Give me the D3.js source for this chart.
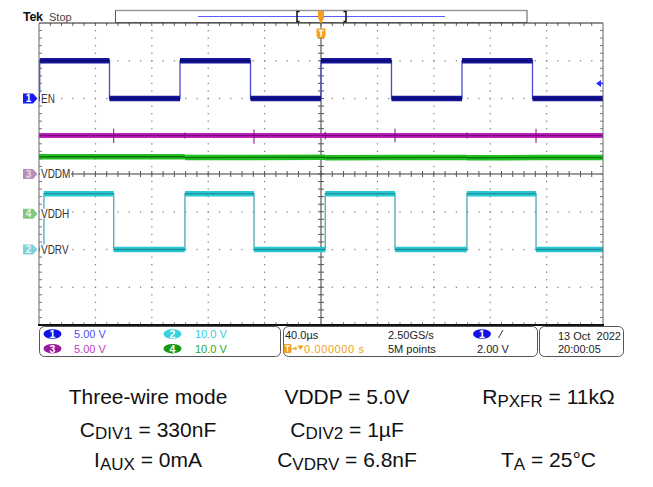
<!DOCTYPE html>
<html><head><meta charset="utf-8">
<script src="https://cdn.jsdelivr.net/npm/d3@7"></script>
<style>
html,body{margin:0;padding:0;background:#fff;}
svg{display:block;}
text{white-space:pre;}
</style></head><body>
<svg id="c" width="653" height="487"></svg>
<script>
// ================= DATA =================
const timeRangeUs = [-200, 200];          // 10 div x 40 µs
const channelIds = [1, 2, 3, 4];
const channelNames = ["EN", "VDRV", "VDDM", "VDDH"];
const channelVoltsPerDiv = [5, 10, 5, 10];
const channelOffsetDiv = [2, -2, 0, -1.05];
const channelScaleLabels = ["5.00 V", "10.0 V", "5.00 V", "10.0 V"];

// CH1  EN
const enTimesUs = [-200, -199.5, -199.5, -150, -150, -100, -100, -50, -50, 0, 0, 50, 50, 100, 100, 150, 150, 200];
const enVolts   = [0, 0, 5, 5, 0, 0, 5, 5, 0, 0, 5, 5, 0, 0, 5, 5, 0, 0];
// CH2  VDRV
const vdrvTimesUs = [-200, -196.5, -196.5, -147, -147, -96.5, -96.5, -47.5, -47.5, 3, 3, 52.5, 52.5, 103.5, 103.5, 152.5, 152.5, 200];
const vdrvVolts   = [0, 0, 14.8, 14.8, 0, 0, 14.8, 14.8, 0, 0, 14.8, 14.8, 0, 0, 14.8, 14.8, 0, 0];
// CH3  VDDM
const vddmTimesUs = [-200, 200];
const vddmVolts   = [5.1, 5.1];
const vddmSpikeTimesUs = [-147, -96.5, -47.5, 3, 52.5, 103.5, 152.5];
const vddmSpikeHighV   = [6.0, 5.5, 5.9, 5.6, 6.0, 5.5, 6.0];
const vddmSpikeLowV    = [4.1, 4.7, 4.0, 4.6, 4.2, 4.7, 4.1];
// CH4  VDDH
const vddhTimesUs = [-200, -96.5, -96.5, -47.5, 3, 3, 52.5, 103.5, 103.5, 152.5, 200];
const vddhVolts   = [15.05, 15.05, 14.85, 14.9, 14.95, 14.8, 14.85, 14.9, 14.8, 14.85, 14.85];

const triggerLevelV = 2.0;
const horizScaleLabel = "40.0µs";
const sampleRateLabel = "2.50GS/s";
const recordLabel = "5M points";
const trigDelayLabel = "0.000000 s";
const trigLevelLabel = "2.00 V";
const dateLabel = "13 Oct  2022";
const timeLabel = "20:00:05";

const paramCol1 = [["Three-wire mode"], ["C", "DIV1", " = 330nF"], ["I", "AUX", " = 0mA"]];
const paramCol2 = [["VDDP = 5.0V"], ["C", "DIV2", " = 1µF"], ["C", "VDRV", " = 6.8nF"]];
const paramCol3 = [["R", "PXFR", " = 11kΩ"], [], ["T", "A", " = 25°C"]];

// ================= STYLE =================
const P = {l: 39, r: 603, t: 23, b: 325};
const FONT = "'Liberation Sans', Arial, sans-serif";
const traceStyle = {
  1: {band: "#14149c", core: "#0a0a6c", edge: "#4a4ad0", w: 5.5},
  2: {band: "#28c8d2", core: "#1f9098", edge: "#4aa8b0", w: 5.5},
  3: {band: "#c41ec4", core: "#7a107a", edge: "#b040b0", w: 5},
  4: {band: "#22bf22", core: "#0c720c", edge: "#30a030", w: 5.5}
};
const markerStyle = {
  1: {fill: "#1a1aee", num: "#ffffff"},
  2: {fill: "#80d2da", num: "#e6f7f8"},
  3: {fill: "#b98cba", num: "#eadcea"},
  4: {fill: "#80c880", num: "#e4f3e4"}
};
const pillStyle = {
  1: {fill: "#1212e6", text: "#5050f0"},
  2: {fill: "#3ad2dc", text: "#30cde0"},
  3: {fill: "#9c1a9c", text: "#c23cc2"},
  4: {fill: "#169a16", text: "#28aa28"}
};

// ================= DRAW =================
const svg = d3.select("#c");
const x = d3.scaleLinear().domain(timeRangeUs).range([P.l, P.r]);
const xDiv = d3.scaleLinear().domain([-5, 5]).range([P.l, P.r]);
const yDiv = d3.scaleLinear().domain([-4, 4]).range([P.b, P.t]);
const chIdx = ch => channelIds.indexOf(ch);
const yV = ch => v => yDiv(v / channelVoltsPerDiv[chIdx(ch)] + channelOffsetDiv[chIdx(ch)]);

svg.append("defs").append("clipPath").attr("id", "clip")
  .append("rect").attr("x", P.l).attr("y", P.t).attr("width", P.r - P.l).attr("height", P.b - P.t);

// grid dots
const grid = svg.append("g");
const dotC = "#858585";
for (let k = -4; k <= 4; k++) {
  if (k === 0) continue;
  for (let j = -19; j <= 19; j++) {
    grid.append("rect").attr("x", xDiv(k) - 0.6).attr("y", yDiv(j * 0.2) - 0.6)
      .attr("width", 1.3).attr("height", 1.3).attr("fill", dotC);
  }
}
for (let k = -3; k <= 3; k++) {
  if (k === 0) continue;
  for (let j = -24; j <= 24; j++) {
    grid.append("rect").attr("x", xDiv(j * 0.2) - 0.6).attr("y", yDiv(k) - 0.6)
      .attr("width", 1.3).attr("height", 1.3).attr("fill", dotC);
  }
}
// center cross with ticks
const cx = xDiv(0), cy = yDiv(0);
grid.append("line").attr("x1", P.l).attr("x2", P.r).attr("y1", cy).attr("y2", cy).attr("stroke", "#3a3a3a").attr("stroke-width", 1);
grid.append("line").attr("x1", cx).attr("x2", cx).attr("y1", P.t).attr("y2", P.b).attr("stroke", "#3a3a3a").attr("stroke-width", 1);
for (let j = -24; j <= 24; j++) {
  grid.append("line").attr("x1", xDiv(j * 0.2)).attr("x2", xDiv(j * 0.2)).attr("y1", cy - 3).attr("y2", cy + 3).attr("stroke", "#555").attr("stroke-width", 1);
  grid.append("line").attr("x1", xDiv(j * 0.2)).attr("x2", xDiv(j * 0.2)).attr("y1", P.t).attr("y2", P.t + 3).attr("stroke", "#666").attr("stroke-width", 1);
  grid.append("line").attr("x1", xDiv(j * 0.2)).attr("x2", xDiv(j * 0.2)).attr("y1", P.b - 3).attr("y2", P.b).attr("stroke", "#888").attr("stroke-width", 1);
}
for (let j = -19; j <= 19; j++) {
  grid.append("line").attr("y1", yDiv(j * 0.2)).attr("y2", yDiv(j * 0.2)).attr("x1", cx - 3).attr("x2", cx + 3).attr("stroke", "#555").attr("stroke-width", 1);
  grid.append("line").attr("y1", yDiv(j * 0.2)).attr("y2", yDiv(j * 0.2)).attr("x1", P.l).attr("x2", P.l + 3).attr("stroke", "#777").attr("stroke-width", 1);
  grid.append("line").attr("y1", yDiv(j * 0.2)).attr("y2", yDiv(j * 0.2)).attr("x1", P.r - 3).attr("x2", P.r).attr("stroke", "#777").attr("stroke-width", 1);
}

// traces
function drawTrace(ch, times, volts) {
  const st = traceStyle[ch], y = yV(ch);
  const g = svg.append("g").attr("clip-path", "url(#clip)");
  const line = d3.line().x(d => x(d[0])).y(d => y(d[1]));
  const pts = times.map((t, i) => [t, volts[i]]);
  g.append("path").attr("d", line(pts)).attr("fill", "none").attr("stroke", st.edge).attr("stroke-width", 1.3);
  for (let i = 0; i < pts.length - 1; i++) {
    if (pts[i + 1][0] > pts[i][0]) {
      g.append("line").attr("x1", x(pts[i][0])).attr("x2", x(pts[i + 1][0]))
        .attr("y1", y(pts[i][1])).attr("y2", y(pts[i + 1][1]))
        .attr("stroke", st.band).attr("stroke-width", st.w);
      g.append("line").attr("x1", x(pts[i][0])).attr("x2", x(pts[i + 1][0]))
        .attr("y1", y(pts[i][1])).attr("y2", y(pts[i + 1][1]))
        .attr("stroke", st.core).attr("stroke-width", 1.4);
    }
  }
  return g;
}
drawTrace(4, vddhTimesUs, vddhVolts);
const g3 = drawTrace(3, vddmTimesUs, vddmVolts);
vddmSpikeTimesUs.forEach((t, i) => {
  g3.append("line").attr("x1", x(t)).attr("x2", x(t))
    .attr("y1", yV(3)(vddmSpikeHighV[i])).attr("y2", yV(3)(vddmSpikeLowV[i]))
    .attr("stroke", traceStyle[3].core).attr("stroke-width", 1);
});
drawTrace(2, vdrvTimesUs, vdrvVolts);
drawTrace(1, enTimesUs, enVolts);

// border
svg.append("line").attr("x1", P.l).attr("x2", P.r).attr("y1", P.t).attr("y2", P.t).attr("stroke", "#222").attr("stroke-width", 1);
svg.append("line").attr("x1", P.l).attr("x2", P.l).attr("y1", P.t).attr("y2", P.b).attr("stroke", "#666").attr("stroke-width", 1);
svg.append("line").attr("x1", P.r).attr("x2", P.r).attr("y1", P.t).attr("y2", P.b).attr("stroke", "#666").attr("stroke-width", 1);
svg.append("line").attr("x1", P.l - 1).attr("x2", P.r + 1).attr("y1", P.b).attr("y2", P.b).attr("stroke", "#111").attr("stroke-width", 2);

// channel ground markers + labels
const markerOrder = [1, 3, 4, 2];
markerOrder.forEach(ch => {
  const yy = yDiv(channelOffsetDiv[chIdx(ch)]);
  const ms = markerStyle[ch];
  svg.append("path").attr("d", `M23,${yy - 5} H33 L37.5,${yy} L33,${yy + 5} H23 Z`).attr("fill", ms.fill);
  svg.append("text").attr("x", 28.5).attr("y", yy + 3.6).attr("text-anchor", "middle")
    .attr("font-family", FONT).attr("font-size", 10).attr("font-weight", "bold").attr("fill", ms.num).text(ch);
  const lbl = svg.append("text").attr("transform", `translate(41,${yy + 4.3}) scale(0.8,1)`)
    .attr("font-family", FONT).attr("font-size", 12.5).attr("fill", "#333").text(channelNames[chIdx(ch)]);
  const w = lbl.node().getComputedTextLength() * 0.8;
  svg.insert("rect", () => lbl.node()).attr("x", 40).attr("y", yy - 5).attr("width", w + 1.5).attr("height", 10).attr("fill", "#fff");
});

// trigger level arrow (right)
const ty = yV(1)(triggerLevelV);
svg.append("path").attr("d", `M596,${ty} L601,${ty - 3.5} L601,${ty + 3.5} Z`).attr("fill", "#2a2aff");
svg.append("line").attr("x1", 600).attr("x2", 603).attr("y1", ty).attr("y2", ty).attr("stroke", "#2a2aff").attr("stroke-width", 1.5);

// top bar
svg.append("text").attr("x", 23).attr("y", 21).attr("font-family", FONT).attr("font-size", 12.5)
  .attr("font-weight", "bold").attr("letter-spacing", -0.3).attr("fill", "#111").text("Tek");
svg.append("text").attr("x", 49).attr("y", 21).attr("font-family", FONT).attr("font-size", 11)
  .attr("fill", "#444").text("Stop");
svg.append("rect").attr("x", 115.5).attr("y", 10.5).attr("width", 411.5).attr("height", 12)
  .attr("fill", "#fff").attr("stroke", "#555").attr("stroke-width", 1);
svg.append("line").attr("x1", 115.5).attr("x2", 527).attr("y1", 10.5).attr("y2", 10.5).attr("stroke", "#999").attr("stroke-width", 1.5);
svg.append("line").attr("x1", 198).attr("x2", 445).attr("y1", 16.5).attr("y2", 16.5).attr("stroke", "#5a5aff").attr("stroke-width", 1.2);
svg.append("path").attr("d", "M299.5,11.5 H297 V21.5 H299.5").attr("fill", "none").attr("stroke", "#111").attr("stroke-width", 1.5);
svg.append("path").attr("d", "M343.5,11.5 H346 V21.5 H343.5").attr("fill", "none").attr("stroke", "#111").attr("stroke-width", 1.5);
// trigger position markers (orange)
const orange = "#f2a01e";
svg.append("path").attr("d", `M${cx - 3},11 H${cx + 3} V18 L${cx},24 L${cx - 3},18 Z`).attr("fill", orange);
svg.append("path").attr("d", `M${cx - 4.5},28.5 H${cx + 4.5} V35 Q${cx + 4.5},38.5 ${cx},38.5 Q${cx - 4.5},38.5 ${cx - 4.5},35 Z`).attr("fill", orange);
svg.append("path").attr("d", `M${cx - 2.5},30.5 H${cx + 2.5} M${cx},30.5 V36.5`).attr("stroke", "#fff").attr("stroke-width", 1.5);

// bottom info panels
const panel = svg.append("g").attr("font-family", FONT).attr("font-size", 11);
function box(x0, x1) {
  panel.append("rect").attr("x", x0 + 0.5).attr("y", 326.5).attr("width", x1 - x0).attr("height", 30)
    .attr("rx", 5).attr("fill", "#fff").attr("stroke", "#555").attr("stroke-width", 1);
}
box(39, 280); box(283, 537); box(539, 623);
function pill(xc, yc, ch) {
  panel.append("ellipse").attr("cx", xc).attr("cy", yc).attr("rx", 9).attr("ry", 4.8).attr("fill", pillStyle[ch].fill);
  panel.append("text").attr("x", xc).attr("y", yc + 3.8).attr("text-anchor", "middle").attr("font-size", 10.5)
    .attr("font-weight", "bold").attr("fill", "#fff").text(ch);
}
const pillPos = {1: [52.5, 334, 74], 3: [52.5, 348.7, 74], 2: [172.5, 334, 195], 4: [172.5, 348.7, 195]};
channelIds.forEach(ch => {
  const p = pillPos[ch];
  pill(p[0], p[1], ch);
  panel.append("text").attr("x", p[2]).attr("y", p[1] + 4.3).attr("fill", pillStyle[ch].text).text(channelScaleLabels[chIdx(ch)]);
});
panel.append("text").attr("x", 285).attr("y", 338.5).attr("fill", "#222").text(horizScaleLabel);
panel.append("rect").attr("x", 283.5).attr("y", 344).attr("width", 8).attr("height", 9).attr("rx", 1.5).attr("fill", orange);
panel.append("path").attr("d", "M285.5,346 H289.5 M287.5,346 V351.5").attr("stroke", "#fff").attr("stroke-width", 1.3);
panel.append("path").attr("d", "M292,348.5 H296.5").attr("stroke", orange).attr("stroke-width", 1.2);
panel.append("path").attr("d", "M295,346.5 L297.5,348.5 L295,350.5 Z").attr("fill", orange);
panel.append("path").attr("d", "M297.5,345.5 H303.5 L300.5,350 Z").attr("fill", orange);
panel.append("text").attr("x", 304).attr("y", 352.5).attr("fill", orange).attr("textLength", 60).text(trigDelayLabel);
panel.append("text").attr("x", 388).attr("y", 338.5).attr("fill", "#222").text(sampleRateLabel);
panel.append("text").attr("x", 388).attr("y", 352.5).attr("fill", "#222").text(recordLabel);
pill(482, 334, 1);
panel.append("path").attr("d", "M498.5,338 L503,330").attr("stroke", "#333").attr("stroke-width", 1);
panel.append("text").attr("x", 477).attr("y", 352.5).attr("fill", "#222").text(trigLevelLabel);
panel.append("text").attr("x", 558).attr("y", 339.5).attr("fill", "#222").text(dateLabel);
panel.append("text").attr("x", 558).attr("y", 352.5).attr("fill", "#222").text(timeLabel);

// parameter text
const rowBaselines = [404, 436.5, 467];
function paramCol(lines, xc) {
  lines.forEach((segs, r) => {
    if (!segs.length) return;
    const t = svg.append("text").attr("x", xc).attr("y", rowBaselines[r]).attr("text-anchor", "middle")
      .attr("font-family", FONT).attr("font-size", 21).attr("fill", "#111");
    if (segs.length === 1) { t.text(segs[0]); return; }
    t.append("tspan").text(segs[0]);
    t.append("tspan").attr("font-size", 17).attr("dy", 2.5).text(segs[1]);
    t.append("tspan").attr("dy", -2.5).text(segs[2]);
  });
}
paramCol(paramCol1, 148);
paramCol(paramCol2, 347);
paramCol(paramCol3, 548.5);
</script>
</body></html>
